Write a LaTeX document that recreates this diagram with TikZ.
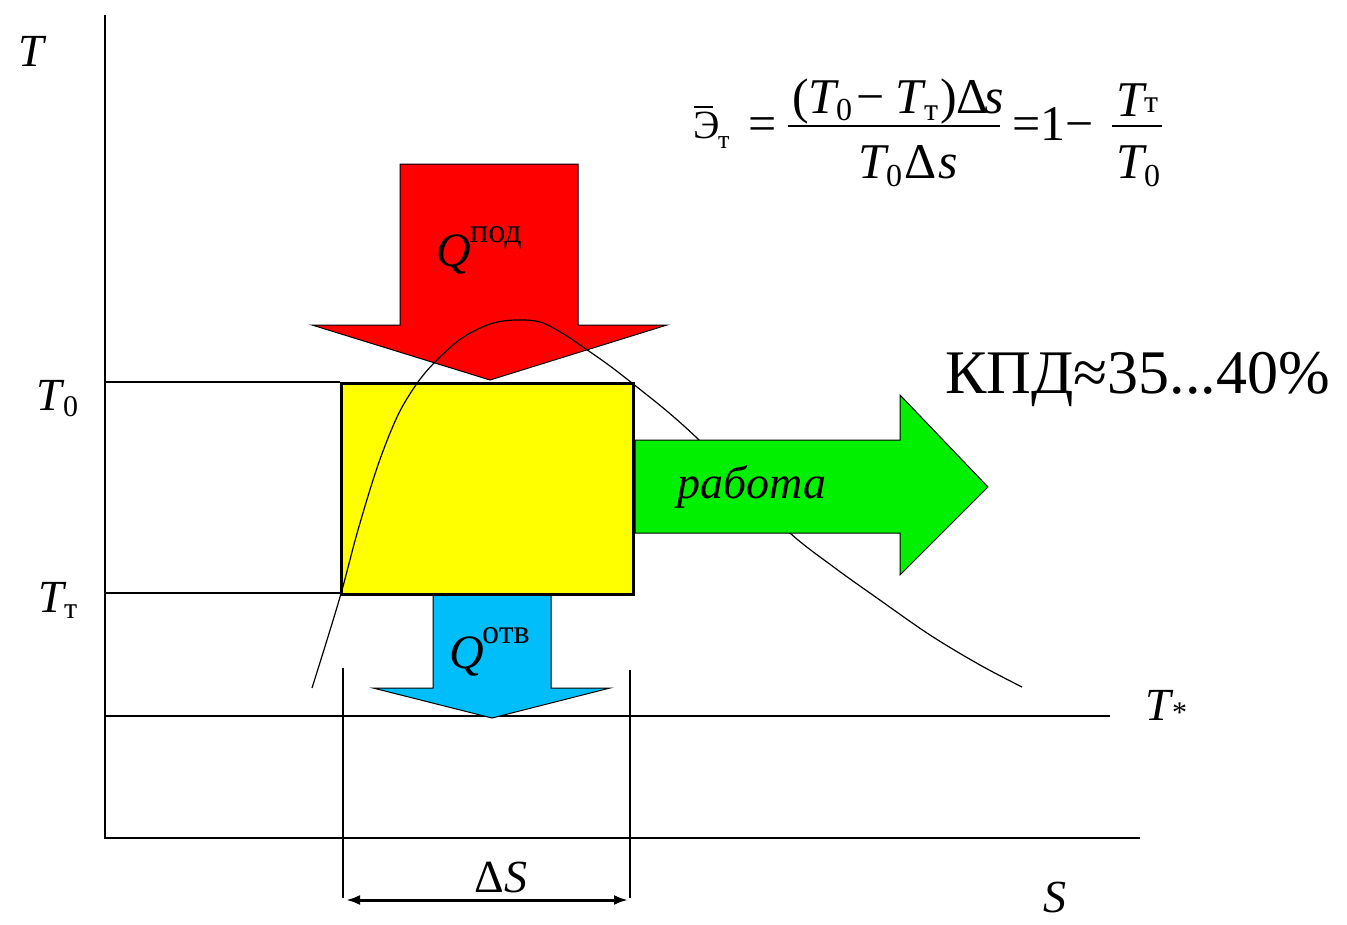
\documentclass[tikz,border=0pt]{standalone}
\usepackage{fontspec}
\setmainfont{Liberation Serif}
\usetikzlibrary{arrows.meta}
\definecolor{redA}{RGB}{255,0,0}
\definecolor{yelA}{RGB}{255,255,0}
\definecolor{grnA}{RGB}{0,240,0}
\definecolor{bluA}{RGB}{0,190,250}
\begin{document}
\begin{tikzpicture}[x=1pt,y=-1pt,
  thinline/.style={line width=1.5pt},
  bigarrow/.style={draw=black, line width=1pt, line join=miter},
  big/.style={inner sep=0pt, anchor=base west, font=\fontsize{46}{50}\selectfont\itshape},
  sub/.style={inner sep=0pt, anchor=base west, font=\fontsize{30}{34}\selectfont},
  fml/.style={inner sep=0pt, anchor=base west, font=\fontsize{50}{56}\selectfont},
  fit/.style={inner sep=0pt, anchor=base west, font=\fontsize{50}{56}\selectfont\itshape},
  fsub/.style={inner sep=0pt, anchor=base west, font=\fontsize{32}{36}\selectfont}]
\useasboundingbox (0,0) rectangle (1347,924);
\fill[white] (0,0) rectangle (1347,924);

% axes
\coordinate (ytop) at (105,15);
\coordinate (orig) at (105,838);
\coordinate (xend) at (1140,838);
\draw[line width=2pt] (ytop) -- (orig) -- (xend);

% level lines
\coordinate (t0a) at (105,382);
\coordinate (t0b) at (340,382);
\coordinate (tta) at (105,593);
\coordinate (ttb) at (340,593);
\coordinate (tsa) at (105,716);
\coordinate (tsb) at (1110,716);
\draw[thinline] (t0a) -- (t0b);
\draw[thinline] (tta) -- (ttb);
\draw[thinline] (tsa) -- (tsb);

% dimension lines
\coordinate (dl1) at (343,668);
\coordinate (dl2) at (343,898);
\coordinate (dr1) at (630,670);
\coordinate (dr2) at (630,898);
\draw[thinline] (dl1) -- (dl2);
\draw[thinline] (dr1) -- (dr2);
\coordinate (da) at (346,900);
\coordinate (db) at (628,900);
\draw[line width=3pt, {Latex[length=14pt,width=10pt]}-{Latex[length=14pt,width=10pt]}] (da) -- (db);

% blue arrow
\draw[bigarrow, fill=bluA] (433,593) -- (551,593) -- (551,688) -- (610,688) -- (492,718) -- (373,688) -- (433,688) -- cycle;

% yellow box
\node[draw=black, line width=3pt, fill=yelA, minimum width=292pt, minimum height=211pt, inner sep=0pt, anchor=north west] (box) at (340,382) {};

% red arrow
\draw[bigarrow, fill=redA] (400,164) -- (578,164) -- (578,325) -- (667,325) -- (490,380) -- (312,325) -- (400,325) -- cycle;

% curve
\draw[line width=1.2pt] plot[smooth, tension=0.55] coordinates {(312,688) (327,640) (342,590) (358,530) (378,465) (398,415) (418,382) (437,360) (462,338) (490,324) (515,320) (540,322) (562,333) (583,347) (610,366) (637,387) (668,412) (697,438) (745,485) (790,533) (835,568) (877,598) (930,635) (980,665) (1022,687)};

% green arrow
\draw[bigarrow, fill=grnA] (635,440) -- (900,440) -- (900,395) -- (988,487) -- (900,575) -- (900,533) -- (635,533) -- cycle;

% labels on arrows
\node[inner sep=0pt, font=\fontsize{46}{50}\selectfont\itshape] (rab) at (752,487) {работа};
\node[big, font=\fontsize{48}{52}\selectfont\itshape] (qp) at (436,266) {Q};
\node[sub, font=\fontsize{34}{38}\selectfont] (qps) at (470,242) {под};
\node[big, font=\fontsize{48}{52}\selectfont\itshape] (qo) at (449,668) {Q};
\node[sub, font=\fontsize{34}{38}\selectfont] (qos) at (482,643) {отв};

% axis labels
\node[big] (lT) at (18,66) {T};
\node[big] (lT0) at (36,410) {T};
\node[sub] (lT0s) at (63,416) {0};
\node[big] (lTt) at (38,612) {T};
\node[sub] (lTts) at (64,618) {т};
\node[big] (lTs) at (1145,720) {T};
\node[sub] (lTss) at (1172,722) {*};
\node[big] (lS) at (1043,912) {S};
\node[inner sep=0pt, anchor=base west, font=\fontsize{46}{50}\selectfont] (lD) at (474,892) {Δ};
\node[big] (lDS) at (504,892) {S};

% efficiency
\node[inner sep=0pt, anchor=base west, font=\fontsize{62}{70}\selectfont] (kpd) at (945,393) {КПД≈35...40\%};

% formula
\node[fml, font=\fontsize{40}{46}\selectfont] (E) at (693,138) {Э};
\node[fsub, font=\fontsize{26}{30}\selectfont] (Es) at (718,148) {т};
\coordinate (eb1) at (694,107);
\coordinate (eb2) at (713,107);
\draw[line width=1.5pt] (eb1) -- (eb2);
\node[fml] (eq1) at (748,140) {=};
% numerator 1
\node[fml] (n1a) at (792,113) {(};
\node[fit] (n1b) at (808,113) {T};
\node[fsub] (n1c) at (836,120) {0};
\node[fml] (n1d) at (856,113) {−};
\node[fit] (n1e) at (895,113) {T};
\node[fsub] (n1f) at (924,120) {т};
\node[fml] (n1g) at (940,113) {)Δ};
\node[fit] (n1h) at (984,113) {s};
% denominator 1
\node[fit] (d1a) at (858,178) {T};
\node[fsub] (d1b) at (886,186) {0};
\node[fml] (d1c) at (904,178) {Δ};
\node[fit] (d1d) at (938,178) {s};
\coordinate (fb1a) at (788,126);
\coordinate (fb1b) at (1000,126);
\draw[line width=1.6pt] (fb1a) -- (fb1b);
\node[fml] (eq2) at (1012,140) {=1−};
% fraction 2
\node[fit] (n2a) at (1116,116) {T};
\node[fsub] (n2b) at (1144,112) {т};
\node[fit] (d2a) at (1116,178) {T};
\node[fsub] (d2b) at (1144,186) {0};
\coordinate (fb2a) at (1112,126);
\coordinate (fb2b) at (1162,126);
\draw[line width=1.6pt] (fb2a) -- (fb2b);
\end{tikzpicture}
\end{document}
